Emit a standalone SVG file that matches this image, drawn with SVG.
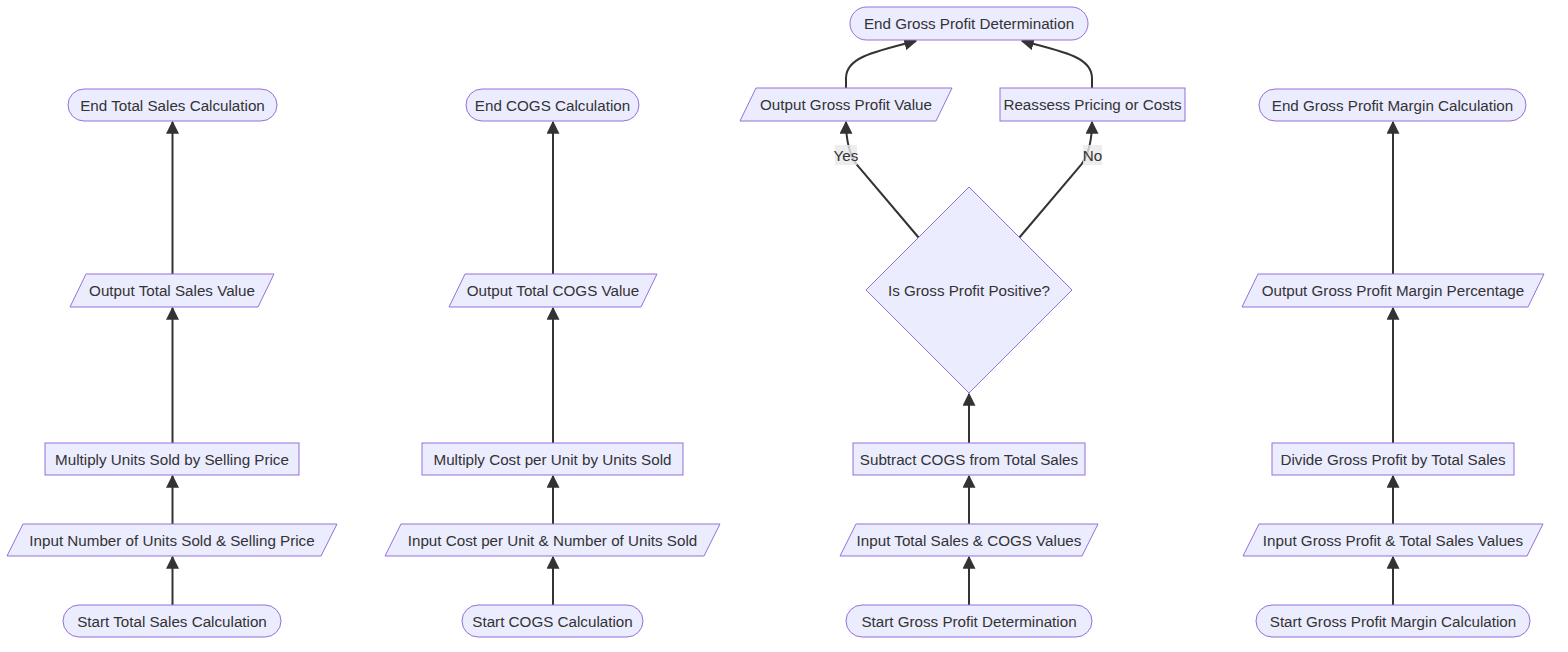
<svg xmlns="http://www.w3.org/2000/svg" width="1568" height="652" viewBox="0 0 1568 652">
<style>
.n{fill:#ECECFF;stroke:#9370DB;stroke-width:1}
.t{font-family:"Liberation Sans",Arial,sans-serif;font-size:15.2px;fill:#333;text-anchor:middle;dominant-baseline:central}
.e{fill:none;stroke:#333;stroke-width:2}
.lb{fill:#e8e8e8;opacity:0.8}
</style>
<defs>
<marker id="ah" viewBox="0 0 10 10" refX="9" refY="5" markerUnits="userSpaceOnUse" markerWidth="13" markerHeight="13" orient="auto">
<path d="M0,0 L10,5 L0,10 z" fill="#333"/>
</marker>
</defs>
<rect width="1568" height="652" fill="#fff"/>
<g id="connectors">
<path class="e" d="M172.5,605 L172.5,557" marker-end="url(#ah)"/>
<path class="e" d="M172.5,524 L172.5,476" marker-end="url(#ah)"/>
<path class="e" d="M172.5,443 L172.5,308" marker-end="url(#ah)"/>
<path class="e" d="M172.5,274 L172.5,122" marker-end="url(#ah)"/>
<path class="e" d="M553,605 L553,557" marker-end="url(#ah)"/>
<path class="e" d="M553,524 L553,476" marker-end="url(#ah)"/>
<path class="e" d="M553,443 L553,308" marker-end="url(#ah)"/>
<path class="e" d="M553,274 L553,122" marker-end="url(#ah)"/>
<path class="e" d="M969,605 L969,557" marker-end="url(#ah)"/>
<path class="e" d="M969,524 L969,476" marker-end="url(#ah)"/>
<path class="e" d="M969,443 L969,394" marker-end="url(#ah)"/>
<path class="e" d="M919,238 L857,165 Q846,150 846,122" marker-end="url(#ah)"/>
<path class="e" d="M1019,238 L1081,165 Q1092,150 1092,122" marker-end="url(#ah)"/>
<path class="e" d="M846,88 L846,78 C846,58 872,52 916,41" marker-end="url(#ah)"/>
<path class="e" d="M1092,88 L1092,78 C1092,58 1066,52 1022,41" marker-end="url(#ah)"/>
<path class="e" d="M1393,605 L1393,557" marker-end="url(#ah)"/>
<path class="e" d="M1393,524 L1393,476" marker-end="url(#ah)"/>
<path class="e" d="M1393,443 L1393,308" marker-end="url(#ah)"/>
<path class="e" d="M1393,274 L1393,122" marker-end="url(#ah)"/>
<g id="label-yes"><rect class="lb" x="835" y="145" width="22" height="20"/><text class="t" x="846" y="155">Yes</text></g>
<g id="label-no"><rect class="lb" x="1083" y="145" width="19" height="20"/><text class="t" x="1092.5" y="155">No</text></g>
</g>
<g id="A1"><rect class="n" x="63" y="605" width="218" height="32" rx="16"/><text class="t" x="172" y="621">Start Total Sales Calculation</text></g>
<g id="A2"><polygon class="n" points="23,524 337,524 321,556 7,556"/><text class="t" x="172" y="540">Input Number of Units Sold &amp; Selling Price</text></g>
<g id="A3"><rect class="n" x="45" y="443" width="254" height="32"/><text class="t" x="172" y="459">Multiply Units Sold by Selling Price</text></g>
<g id="A4"><polygon class="n" points="86,274 274,274 258,307 70,307"/><text class="t" x="172" y="290.5">Output Total Sales Value</text></g>
<g id="A5"><rect class="n" x="68" y="89" width="209" height="32" rx="16"/><text class="t" x="172.5" y="105">End Total Sales Calculation</text></g>
<g id="B1"><rect class="n" x="462" y="605" width="181" height="32" rx="16"/><text class="t" x="552.5" y="621">Start COGS Calculation</text></g>
<g id="B2"><polygon class="n" points="401,524 720,524 704,556 385,556"/><text class="t" x="552.5" y="540">Input Cost per Unit &amp; Number of Units Sold</text></g>
<g id="B3"><rect class="n" x="422" y="443" width="261" height="32"/><text class="t" x="552.5" y="459">Multiply Cost per Unit by Units Sold</text></g>
<g id="B4"><polygon class="n" points="465,274 657,274 641,307 449,307"/><text class="t" x="553" y="290.5">Output Total COGS Value</text></g>
<g id="B5"><rect class="n" x="466" y="89" width="173" height="32" rx="16"/><text class="t" x="552.5" y="105">End COGS Calculation</text></g>
<g id="C1"><rect class="n" x="846" y="605" width="246" height="32" rx="16"/><text class="t" x="969" y="621">Start Gross Profit Determination</text></g>
<g id="C2"><polygon class="n" points="856,524 1098,524 1082,556 840,556"/><text class="t" x="969" y="540">Input Total Sales &amp; COGS Values</text></g>
<g id="C3"><rect class="n" x="853" y="443" width="232" height="32"/><text class="t" x="969" y="459">Subtract COGS from Total Sales</text></g>
<g id="C4"><polygon class="n" points="969,187 1072,290 969,393 866,290"/><text class="t" x="969" y="290.5">Is Gross Profit Positive?</text></g>
<g id="C5"><polygon class="n" points="756,88 952,88 936,121 740,121"/><text class="t" x="846" y="104.5">Output Gross Profit Value</text></g>
<g id="C6"><rect class="n" x="1000" y="88" width="185" height="33"/><text class="t" x="1092.5" y="104.5">Reassess Pricing or Costs</text></g>
<g id="C7"><rect class="n" x="850" y="7" width="238" height="33" rx="16.5"/><text class="t" x="969" y="23.5">End Gross Profit Determination</text></g>
<g id="D1"><rect class="n" x="1256" y="605" width="274" height="32" rx="16"/><text class="t" x="1393" y="621">Start Gross Profit Margin Calculation</text></g>
<g id="D2"><polygon class="n" points="1259,524 1543,524 1527,556 1243,556"/><text class="t" x="1393" y="540">Input Gross Profit &amp; Total Sales Values</text></g>
<g id="D3"><rect class="n" x="1272" y="443" width="242" height="32"/><text class="t" x="1393" y="459">Divide Gross Profit by Total Sales</text></g>
<g id="D4"><polygon class="n" points="1258,274 1544,274 1528,307 1242,307"/><text class="t" x="1393" y="290.5">Output Gross Profit Margin Percentage</text></g>
<g id="D5"><rect class="n" x="1259" y="89" width="267" height="32" rx="16"/><text class="t" x="1392.5" y="105">End Gross Profit Margin Calculation</text></g>
</svg>
